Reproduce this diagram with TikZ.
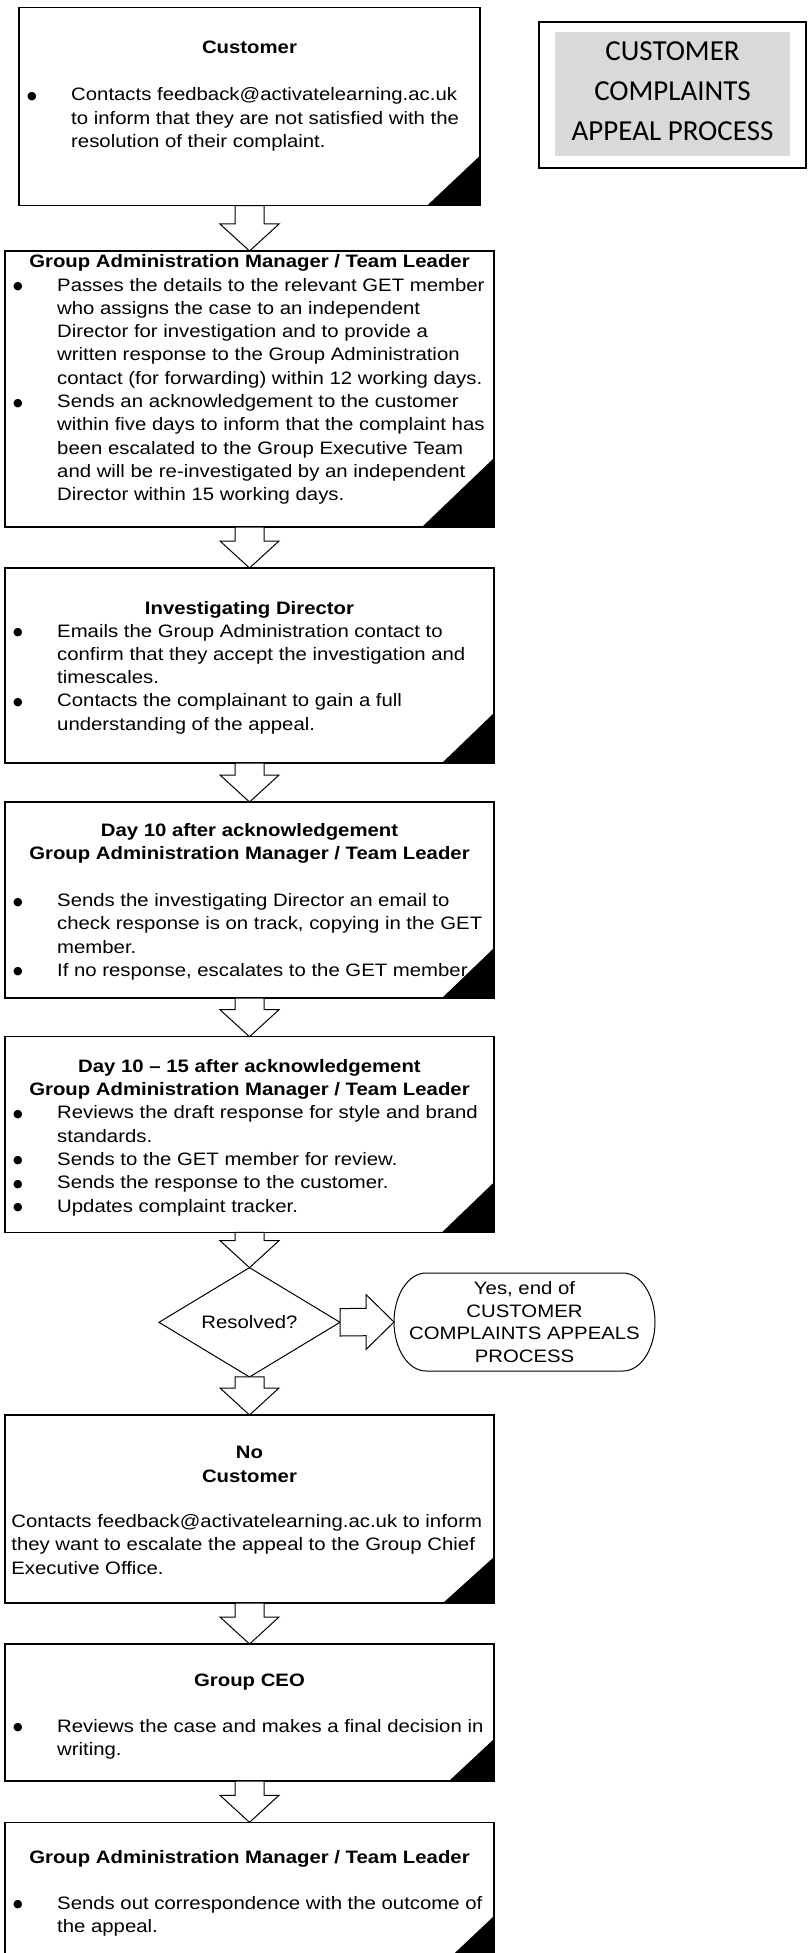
\documentclass[tikz,border=0pt]{standalone}
\usepackage{fontspec}
\setmainfont{Liberation Sans}[FakeStretch=1.13]
\newfontfamily\titlefont{Carlito}
\newfontfamily\symfont{DejaVu Sans}
\usetikzlibrary{shapes.geometric,calc}
\definecolor{titlegray}{HTML}{D9D9D9}
\newcommand{\bodyfont}{\fontsize{18pt}{23.3pt}\selectfont}
\newcommand{\bulglyph}{{\symfont\fontsize{11pt}{11pt}\selectfont\hspace*{1.5pt}\raisebox{1.5pt}{●}}}
\newcommand{\bitem}[1]{\makebox[45.5pt][l]{\bulglyph}#1\par}
\newcommand{\citem}[1]{\hspace*{45.5pt}#1\par}
\newcommand{\pitem}[1]{#1\par}
\newcommand{\downarr}[2]{%
  \draw[blockarrow] ($(#1)+(-14.5,0)$) -- ($(#2)+(-14.5,-27)$) -- ($(#2)+(-29.5,-27)$) -- (#2)
    -- ($(#2)+(29.5,-27)$) -- ($(#2)+(14.5,-27)$) -- ($(#1)+(14.5,0)$) -- cycle;}
\tikzset{
  flowbox/.style={draw, line width=1.3pt, fill=white, inner sep=0pt, outer sep=0pt},
  blockarrow/.style={draw, line width=1pt, fill=white, line join=miter},
  txt/.style={inner sep=0pt, anchor=base west},
  head/.style={inner sep=0pt, anchor=base, font=\bodyfont\bfseries},
  corner/.style={fill=black},
}
\begin{document}
\begin{tikzpicture}[x=1pt, y=-1pt]
\useasboundingbox (0,0) rectangle (811,1953);
\fill[white] (0,0) rectangle (811,1953);

% boxes
\node[flowbox, minimum width=461pt, minimum height=198.2pt] (b1) at (249.5,106.6) {};
\node[flowbox, minimum width=489pt, minimum height=276pt] (b2) at (249.5,389) {};
\node[flowbox, minimum width=489pt, minimum height=195pt] (b3) at (249.5,665.5) {};
\node[flowbox, minimum width=489pt, minimum height=196pt] (b4) at (249.5,900) {};
\node[flowbox, minimum width=489pt, minimum height=195.6pt] (b5) at (249.5,1134.5) {};
\node[flowbox, minimum width=489pt, minimum height=188pt] (b6) at (249.5,1509) {};
\node[flowbox, minimum width=489pt, minimum height=137pt] (b7) at (249.5,1712.5) {};
\node[flowbox, minimum width=489pt, minimum height=143.7pt] (b8) at (249.5,1894.15) {};

% decision and terminator
\node[diamond, draw, line width=1pt, fill=white, minimum width=181pt, minimum height=101.5pt, inner sep=0pt, outer sep=0pt, font=\bodyfont] (d) at (249.5,1322.3) {Resolved?};
\node[minimum width=261pt, minimum height=98pt, inner sep=0pt, outer sep=0pt, align=center, font=\fontsize{18pt}{22.8pt}\selectfont] (term) at (524.5,1322) {Yes, end of\\CUSTOMER\\COMPLAINTS APPEALS\\PROCESS};
\draw[line width=1pt] ($(term.north west)+(32,0)$) -- ($(term.north east)+(-32,0)$)
  arc[start angle=90, end angle=-90, x radius=32pt, y radius=49pt]
  -- ($(term.south west)+(32,0)$)
  arc[start angle=270, end angle=90, x radius=32pt, y radius=49pt] -- cycle;

% title box
\node[draw, line width=1.8pt, minimum width=267pt, minimum height=146pt, inner sep=0pt] (tb) at (672.5,95) {};
\node[fill=titlegray, minimum width=235pt, minimum height=124pt, inner sep=0pt] (tg) at (672.5,94) {};
\node[inner sep=0pt, align=center, font=\titlefont\fontsize{29pt}{40pt}\selectfont] (tt) at (672.5,91.5) {CUSTOMER\\COMPLAINTS\\APPEAL PROCESS};

% box 1
\node[head] (h1) at (249.5,54) {Customer};
\node[txt] (t1) at (25.5,101) {\parbox[t]{520pt}{\bodyfont\raggedright
\bitem{Contacts feedback@activatelearning.ac.uk}
\citem{to inform that they are not satisfied with the}
\citem{resolution of their complaint.}}};

% box 2
\node[head] (h2) at (249.5,268) {Group Administration Manager / Team Leader};
\node[txt] (t2) at (11.5,291) {\parbox[t]{520pt}{\bodyfont\raggedright
\bitem{Passes the details to the relevant GET member}
\citem{who assigns the case to an independent}
\citem{Director for investigation and to provide a}
\citem{written response to the Group Administration}
\citem{contact (for forwarding) within 12 working days.}
\bitem{Sends an acknowledgement to the customer}
\citem{within five days to inform that the complaint has}
\citem{been escalated to the Group Executive Team}
\citem{and will be re-investigated by an independent}
\citem{Director within 15 working days.}}};

% box 3
\node[head] (h3) at (249.5,614.5) {Investigating Director};
\node[txt] (t3) at (11.5,637) {\parbox[t]{520pt}{\bodyfont\raggedright
\bitem{Emails the Group Administration contact to}
\citem{confirm that they accept the investigation and}
\citem{timescales.}
\bitem{Contacts the complainant to gain a full}
\citem{understanding of the appeal.}}};

% box 4
\node[head] (h4a) at (249.5,836.5) {Day 10 after acknowledgement};
\node[head] (h4b) at (249.5,859.8) {Group Administration Manager / Team Leader};
\node[txt] (t4) at (11.5,906.5) {\parbox[t]{520pt}{\bodyfont\raggedright
\bitem{Sends the investigating Director an email to}
\citem{check response is on track, copying in the GET}
\citem{member.}
\bitem{If no response, escalates to the GET member.}}};

% box 5
\node[head] (h5a) at (249.5,1072.5) {Day 10 – 15 after acknowledgement};
\node[head] (h5b) at (249.5,1095.8) {Group Administration Manager / Team Leader};
\node[txt] (t5) at (11.5,1118.8) {\parbox[t]{520pt}{\bodyfont\raggedright
\bitem{Reviews the draft response for style and brand}
\citem{standards.}
\bitem{Sends to the GET member for review.}
\bitem{Sends the response to the customer.}
\bitem{Updates complaint tracker.}}};

% box 6
\node[head] (h6a) at (249.5,1458.8) {No};
\node[head] (h6b) at (249.5,1482.2) {Customer};
\node[txt] (t6) at (11.2,1527.5) {\parbox[t]{520pt}{\bodyfont\raggedright
\pitem{Contacts feedback@activatelearning.ac.uk to inform}
\pitem{they want to escalate the appeal to the Group Chief}
\pitem{Executive Office.}}};

% box 7
\node[head] (h7) at (249.5,1686) {Group CEO};
\node[txt] (t7) at (11.5,1732) {\parbox[t]{520pt}{\bodyfont\raggedright
\bitem{Reviews the case and makes a final decision in}
\citem{writing.}}};

% box 8
\node[head] (h8) at (249.5,1863) {Group Administration Manager / Team Leader};
\node[txt] (t8) at (11.5,1909.3) {\parbox[t]{520pt}{\bodyfont\raggedright
\bitem{Sends out correspondence with the outcome of}
\citem{the appeal.}}};

% black corners
\fill[corner] (b1.south east) -- ++(-53,0) -- ++(53,-50) -- cycle;
\fill[corner] (b2.south east) -- ++(-72,0) -- ++(72,-69) -- cycle;
\fill[corner] (b3.south east) -- ++(-52,0) -- ++(52,-50) -- cycle;
\fill[corner] (b4.south east) -- ++(-52,0) -- ++(52,-50) -- cycle;
\fill[corner] (b5.south east) -- ++(-52,0) -- ++(52,-50) -- cycle;
\fill[corner] (b6.south east) -- ++(-51,0) -- ++(51,-46) -- cycle;
\fill[corner] (b7.south east) -- ++(-45,0) -- ++(45,-42) -- cycle;
\fill[corner] (b8.south east) -- ++(-53,0) -- ++(53,-50) -- cycle;

% arrows
\downarr{b1.south}{b2.north}
\downarr{b2.south}{b3.north}
\downarr{b3.south}{b4.north}
\downarr{b4.south}{b5.north}
\downarr{b5.south}{d.north}
\downarr{d.south}{b6.north}
\downarr{b6.south}{b7.north}
\downarr{b7.south}{b8.north}
\draw[blockarrow] ($(d.east)+(0,-13.7)$) -- ($(term.west)+(-28,-13.7)$) -- ($(term.west)+(-28,-27.5)$) -- (term.west)
  -- ($(term.west)+(-28,27.5)$) -- ($(term.west)+(-28,13.7)$) -- ($(d.east)+(0,13.7)$) -- cycle;
\end{tikzpicture}
\end{document}
